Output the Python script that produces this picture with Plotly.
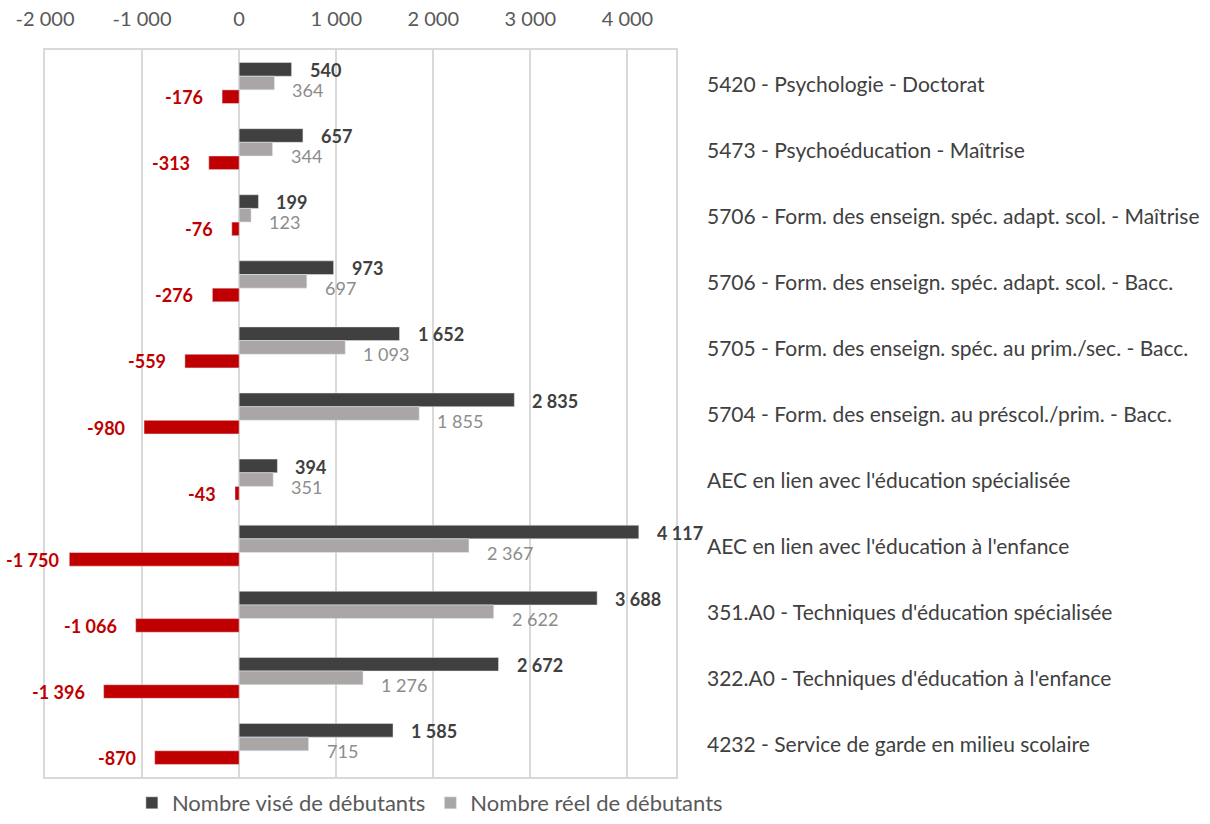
import plotly.graph_objects as go

categories = [
    "5420 - Psychologie - Doctorat",
    "5473 - Psychoéducation - Maîtrise",
    "5706 - Form. des enseign. spéc. adapt. scol. - Maîtrise",
    "5706 - Form. des enseign. spéc. adapt. scol. - Bacc.",
    "5705 - Form. des enseign. spéc. au prim./sec. - Bacc.",
    "5704 - Form. des enseign. au préscol./prim. - Bacc.",
    "AEC en lien avec l'éducation spécialisée",
    "AEC en lien avec l'éducation à l'enfance",
    "351.A0 - Techniques d'éducation spécialisée",
    "322.A0 - Techniques d'éducation à l'enfance",
    "4232 - Service de garde en milieu scolaire",
]
vise = [540, 657, 199, 973, 1652, 2835, 394, 4117, 3688, 2672, 1585]
reel = [364, 344, 123, 697, 1093, 1855, 351, 2367, 2622, 1276, 715]
ecart = [-176, -313, -76, -276, -559, -980, -43, -1750, -1066, -1396, -870]
tick_vals = [-2000, -1000, 0, 1000, 2000, 3000, 4000]


def fmt(v):
    s = f"{abs(v):,}".replace(",", " ")
    return ("-" if v < 0 else "") + s


FONT = "Lato, 'Open Sans', sans-serif"

fig = go.Figure()
fig.add_trace(go.Bar(
    y=categories, x=vise, orientation="h", name="Nombre visé de débutants",
    marker=dict(color="#404040"),
))
fig.add_trace(go.Bar(
    y=categories, x=reel, orientation="h", name="Nombre réel de débutants",
    marker=dict(color="#aaa6a6"),
))
fig.add_trace(go.Bar(
    y=categories, x=ecart, orientation="h", name="Écart",
    marker=dict(color="#c00000"), showlegend=False,
))

# value labels (styled like the reference: offset from bar ends)
label_specs = [
    (vise, "#404040", "bold", 13),
    (reel, "#8c8c8c", "normal", -7),
    (ecart, "#c00000", "bold", -14),
]
for values, color, weight, yshift in label_specs:
    for c, v in zip(categories, values):
        if v >= 0:
            xanchor, xshift = "left", 16
        else:
            xanchor = "right"
            # keep labels of the longest negative bars inside the figure
            xshift = -8 if v < -1500 else -17
        fig.add_annotation(
            x=v, xref="x", y=c, yref="y", text=fmt(v), showarrow=False,
            xanchor=xanchor, xshift=xshift, yshift=yshift,
            font=dict(size=18, color=color, family=FONT, weight=weight),
        )

for c in categories:
    fig.add_annotation(
        x=1, xref="paper", y=c, yref="y", text=c, showarrow=False,
        xanchor="left", xshift=29, font=dict(size=21, color="#404040", family=FONT),
    )

fig.update_layout(
    width=1210, height=824,
    margin=dict(l=45, r=534, t=50, b=47, autoexpand=False),
    paper_bgcolor="white", plot_bgcolor="white",
    barmode="group", bargap=0.38, bargroupgap=0.0,
    font=dict(family=FONT, color="#595959"),
    legend=dict(
        orientation="h", x=0.109, xref="container", xanchor="left",
        y=-0.007, yref="container", yanchor="bottom",
        font=dict(size=22, color="#595959", family=FONT),
        itemwidth=30, traceorder="normal",
    ),
    showlegend=True,
)
fig.update_xaxes(
    side="top", range=[-2000, 4500], automargin=False,
    tickvals=tick_vals, ticktext=[fmt(v) for v in tick_vals],
    tickfont=dict(size=20, color="#595959", family=FONT),
    showgrid=True, gridcolor="#d9d9d9", gridwidth=2,
    zeroline=False, showline=True, linecolor="#d9d9d9", linewidth=2, mirror=True,
    ticks="", ticklabelstandoff=14,
)
fig.update_yaxes(
    autorange="reversed", showticklabels=False, showgrid=False, automargin=False,
    showline=True, linecolor="#d9d9d9", linewidth=2, mirror=True, ticks="",
)
fig.write_html(
    "out.html",
    config={"displayModeBar": False},
    post_script="document.body.style.margin='0';",
)
